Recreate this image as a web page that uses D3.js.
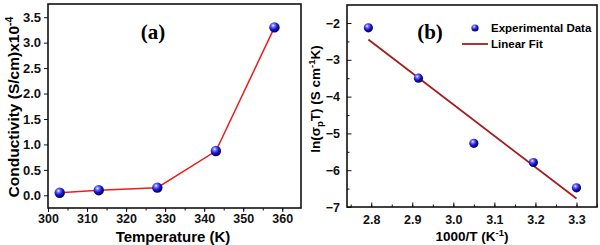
<!DOCTYPE html>
<html>
<head>
<meta charset="utf-8">
<script src="https://cdn.jsdelivr.net/npm/d3@7"></script>
<style>
  body { margin: 0; background: #fff; }
  svg { display: block; font-family: "Liberation Sans", Arial, sans-serif; }
  .tick text { font-weight: bold; fill: #111; }
  .axis path, .axis line { stroke: #111; }
</style>
</head>
<body>
<svg id="chart" width="600" height="245"></svg>
<script>
// panel (a) data
const tempK = [303, 313, 328, 343, 358];
const conductivity = [0.05, 0.10, 0.15, 0.87, 3.30];
const tempTicks = [300, 310, 320, 330, 340, 350, 360];
const condTicks = [0, 0.5, 1.0, 1.5, 2.0, 2.5, 3.0, 3.5];

// panel (b) data
const invT = [2.793, 2.915, 3.05, 3.195, 3.30];
const lnSigmaT = [-2.13, -3.5, -5.27, -5.79, -6.48];
const fitX = [2.793, 3.30];
const fitY = [-2.45, -6.77];
const invTTicks = [2.8, 2.9, 3.0, 3.1, 3.2, 3.3];
const lnTicks = [-7, -6, -5, -4, -3, -2];

const svg = d3.select('#chart');

// shaded sphere for the markers
const grad = svg.append('defs').append('radialGradient')
    .attr('id', 'ball')
    .attr('cx', '38%').attr('cy', '32%').attr('r', '65%');
grad.append('stop').attr('offset', '0%').attr('stop-color', '#ffffff');
grad.append('stop').attr('offset', '22%').attr('stop-color', '#7c7cff');
grad.append('stop').attr('offset', '60%').attr('stop-color', '#1616d2');
grad.append('stop').attr('offset', '100%').attr('stop-color', '#02025e');

// ---------------- panel (a) ----------------
const a = {left: 48, right: 301, top: 4, bottom: 208};

const xA = d3.scaleLinear().domain([300, 364.8]).range([a.left, a.right]);
const yA = d3.scaleLinear().domain([-0.25, 3.76]).range([a.bottom, a.top]);

const gA = svg.append('g');

gA.append('g')
    .attr('class', 'axis')
    .attr('transform', `translate(0,${a.bottom})`)
    .call(d3.axisBottom(xA).tickValues(d3.range(300, 365, 5)).tickSize(2.5).tickSizeOuter(0).tickFormat(''))
    .call(g => g.select('.domain').remove());

gA.append('g')
    .attr('class', 'axis')
    .attr('transform', `translate(0,${a.bottom})`)
    .call(d3.axisBottom(xA).tickValues(tempTicks).tickSize(4).tickSizeOuter(0).tickPadding(2).tickFormat(d3.format('d')))
    .call(g => g.select('.domain').remove())
    .selectAll('text').attr('font-size', 12.5);

gA.append('g')
    .attr('class', 'axis')
    .attr('transform', `translate(${a.left},0)`)
    .call(d3.axisLeft(yA).tickValues(condTicks).tickSize(4).tickSizeOuter(0).tickPadding(3).tickFormat(d3.format('.1f')))
    .call(g => g.select('.domain').remove())
    .selectAll('text').attr('font-size', 13);

gA.append('rect')
    .attr('x', a.left).attr('y', a.top)
    .attr('width', a.right - a.left).attr('height', a.bottom - a.top)
    .attr('fill', 'none').attr('stroke', '#111').attr('stroke-width', 1.6);

gA.append('path')
    .datum(tempK.map((t, i) => [t, conductivity[i]]))
    .attr('fill', 'none')
    .attr('stroke', '#ee1c1c')
    .attr('stroke-width', 1.5)
    .attr('d', d3.line().x(d => xA(d[0])).y(d => yA(d[1])));

gA.selectAll('circle.pt')
    .data(tempK.map((t, i) => [t, conductivity[i]]))
    .enter()
    .append('circle')
        .attr('class', 'pt')
        .attr('cx', d => xA(d[0]))
        .attr('cy', d => yA(d[1]))
        .attr('r', 5.2)
        .attr('fill', 'url(#ball)');

gA.append('text')
    .attr('x', 153).attr('y', 39)
    .attr('text-anchor', 'middle')
    .attr('font-family', '"Liberation Serif", "Times New Roman", serif')
    .attr('font-weight', 'bold').attr('font-size', 21)
    .text('(a)');

gA.append('text')
    .attr('x', 173).attr('y', 242)
    .attr('text-anchor', 'middle')
    .attr('font-weight', 'bold').attr('font-size', 15)
    .text('Temperature (K)');

const yLabA = gA.append('text')
    .attr('transform', 'translate(19,107) rotate(-90)')
    .attr('text-anchor', 'middle')
    .attr('font-weight', 'bold').attr('font-size', 15.5);
yLabA.append('tspan').text('Conductivity (S/cm)x10');
yLabA.append('tspan').attr('dy', -6).attr('font-size', 10.5).text('-4');

// ---------------- panel (b) ----------------
const b = {left: 347, right: 597, top: 5, bottom: 207};

const xB = d3.scaleLinear().domain([2.741, 3.35]).range([b.left, b.right]);
const yB = d3.scaleLinear().domain([-7, -1.51]).range([b.bottom, b.top]);

const gB = svg.append('g');

// minor ticks, inward
gB.append('g')
    .attr('class', 'axis')
    .attr('transform', `translate(0,${b.bottom})`)
    .call(d3.axisTop(xB).tickValues(d3.range(2.75, 3.35, 0.05)).tickSize(2.5).tickSizeOuter(0).tickFormat(''))
    .call(g => g.select('.domain').remove());
gB.append('g')
    .attr('class', 'axis')
    .attr('transform', `translate(${b.left},0)`)
    .call(d3.axisRight(yB).tickValues(d3.range(-6.5, -1.5, 1)).tickSize(2.5).tickSizeOuter(0).tickFormat(''))
    .call(g => g.select('.domain').remove());

// major ticks, inward with labels outside
gB.append('g')
    .attr('class', 'axis')
    .attr('transform', `translate(0,${b.bottom})`)
    .call(d3.axisBottom(xB).tickValues(invTTicks).tickSize(-4.5).tickSizeOuter(0).tickPadding(8).tickFormat(d3.format('.1f')))
    .call(g => g.select('.domain').remove())
    .selectAll('text').attr('font-size', 12.5);
gB.append('g')
    .attr('class', 'axis')
    .attr('transform', `translate(${b.left},0)`)
    .call(d3.axisLeft(yB).tickValues(lnTicks).tickSize(-4.5).tickSizeOuter(0).tickPadding(7).tickFormat(d3.format('d')))
    .call(g => g.select('.domain').remove())
    .selectAll('text').attr('font-size', 12.5);

gB.append('rect')
    .attr('x', b.left).attr('y', b.top)
    .attr('width', b.right - b.left).attr('height', b.bottom - b.top)
    .attr('fill', 'none').attr('stroke', '#111').attr('stroke-width', 1.6);

gB.append('path')
    .datum(fitX.map((x, i) => [x, fitY[i]]))
    .attr('fill', 'none')
    .attr('stroke', '#a51c1c')
    .attr('stroke-width', 1.8)
    .attr('d', d3.line().x(d => xB(d[0])).y(d => yB(d[1])));

gB.selectAll('circle.pt')
    .data(invT.map((x, i) => [x, lnSigmaT[i]]))
    .enter()
    .append('circle')
        .attr('class', 'pt')
        .attr('cx', d => xB(d[0]))
        .attr('cy', d => yB(d[1]))
        .attr('r', 4.6)
        .attr('fill', 'url(#ball)');

gB.append('text')
    .attr('x', 430).attr('y', 39)
    .attr('text-anchor', 'middle')
    .attr('font-family', '"Liberation Serif", "Times New Roman", serif')
    .attr('font-weight', 'bold').attr('font-size', 21)
    .text('(b)');

// legend
gB.append('circle')
    .attr('cx', 475).attr('cy', 28).attr('r', 3.6)
    .attr('fill', 'url(#ball)');
gB.append('text')
    .attr('x', 491).attr('y', 32)
    .attr('font-weight', 'bold').attr('font-size', 11.5)
    .text('Experimental Data');
gB.append('line')
    .attr('x1', 462).attr('x2', 488).attr('y1', 44).attr('y2', 44)
    .attr('stroke', '#a51c1c').attr('stroke-width', 1.8);
gB.append('text')
    .attr('x', 491).attr('y', 48)
    .attr('font-weight', 'bold').attr('font-size', 11.5)
    .text('Linear Fit');

const xLabB = gB.append('text')
    .attr('x', 472).attr('y', 241)
    .attr('text-anchor', 'middle')
    .attr('font-weight', 'bold').attr('font-size', 13.5);
xLabB.append('tspan').text('1000/T (K');
xLabB.append('tspan').attr('dy', -5).attr('font-size', 9.5).text('-1');
xLabB.append('tspan').attr('dy', 5).text(')');

const yLabB = gB.append('text')
    .attr('transform', 'translate(320,99) rotate(-90)')
    .attr('text-anchor', 'middle')
    .attr('font-weight', 'bold').attr('font-size', 13.5);
yLabB.append('tspan').text('ln(σ');
yLabB.append('tspan').attr('dy', 3).attr('font-size', 9.5).text('p');
yLabB.append('tspan').attr('dy', -3).text('T) (S cm');
yLabB.append('tspan').attr('dy', -5).attr('font-size', 9.5).text('-1');
yLabB.append('tspan').attr('dy', 5).text('K)');
</script>
</body>
</html>
